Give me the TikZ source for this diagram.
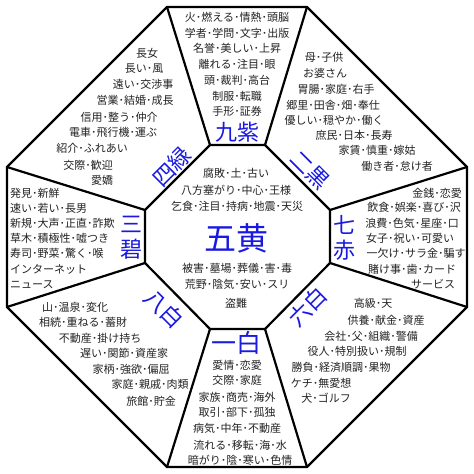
\documentclass[tikz,border=0pt]{standalone}
\usepackage{fontspec}
\setmainfont{Noto Sans CJK JP}
\newfontfamily\jp{Noto Sans CJK JP}
\definecolor{labelblue}{RGB}{25,25,225}
\definecolor{ink}{RGB}{35,35,35}
\begin{document}
\begin{tikzpicture}[x=1pt,y=-1pt,
  edge/.style={line width=2.2pt,line join=miter,draw=black},
  txt/.style={font=\jp\fontsize{11}{13}\selectfont,text=ink,inner sep=0pt},
  big/.style={font=\jp\fontsize{22}{25}\selectfont,text=labelblue,inner sep=0pt,align=center},
]
\useasboundingbox (0,0) rectangle (474,474);
\fill[white] (0,0) rectangle (474,474);
% outer octagon
\coordinate (o1) at (167,7);
\coordinate (o2) at (307,7);
\coordinate (o3) at (467,167);
\coordinate (o4) at (467,307);
\coordinate (o5) at (307,467);
\coordinate (o6) at (167,467);
\coordinate (o7) at (7,307);
\coordinate (o8) at (7,167);
% inner octagon
\coordinate (i1) at (210,145);
\coordinate (i2) at (265,145);
\coordinate (i3) at (330,210);
\coordinate (i4) at (330,263);
\coordinate (i5) at (265,329);
\coordinate (i6) at (210,329);
\coordinate (i7) at (145,263);
\coordinate (i8) at (145,210);
\draw[edge] (o1)--(o2)--(o3)--(o4)--(o5)--(o6)--(o7)--(o8)--cycle;
\draw[edge] (i1)--(i2)--(i3)--(i4)--(i5)--(i6)--(i7)--(i8)--cycle;
\foreach \k in {1,...,8} \draw[edge] (o\k)--(i\k);

% 九紫 (top)
\node[txt] (n1) at (237,17) {火･燃える･情熱･頭脳};
\node[txt] (n2) at (237,33) {学者･学問･文字･出版};
\node[txt] (n3) at (237,48) {名誉･美しい･上昇};
\node[txt] (n4) at (237,64) {離れる･注目･眼};
\node[txt] (n5) at (237,80) {頭･裁判･高台};
\node[txt] (n6) at (237,96) {制服･転職};
\node[txt] (n7) at (237,111) {手形･証券};
\node[big] (L9) at (237,132) {九紫};

% 二黒 (upper right)
\node[txt] (b1) at (324,57) {母･子供};
\node[txt] (b2) at (325,73) {お婆さん};
\node[txt] (b3) at (336,89) {胃腸･家庭･右手};
\node[txt] (b4) at (333,105) {郷里･田舎･畑･奉仕};
\node[txt] (b5) at (334,120) {優しい･穏やか･働く};
\node[txt] (b6) at (354,135) {庶民･日本･長寿};
\node[txt] (b7) at (377,150) {家賃･慎重･嫁姑};
\node[txt] (b8) at (397,166) {働き者･怠け者};
\node[big,rotate=-45] (L2) at (310,170) {二黒};

% 四緑 (upper left)
\node[txt] (g1) at (147,53) {長女};
\node[txt] (g2) at (144,69) {長い･風};
\node[txt] (g3) at (143,84) {遠い･交渉事};
\node[txt] (g4) at (135,100) {営業･結婚･成長};
\node[txt] (g5) at (119,117) {信用･整う･仲介};
\node[txt] (g6) at (113,132) {電車･飛行機･運ぶ};
\node[txt] (g7) at (92,148) {紹介･ふれあい};
\node[txt] (g8) at (88,165) {交際･歓迎};
\node[txt] (g9) at (102,180) {愛嬌};
\node[big,rotate=45] (L4) at (172,167) {四緑};

% 三碧 (left)
\node[txt,anchor=west] (s1) at (10,193) {発見･新鮮};
\node[txt,anchor=west] (s2) at (10,208) {速い･若い･長男};
\node[txt,anchor=west] (s3) at (10,223) {新規･大声･正直･詐欺};
\node[txt,anchor=west] (s4) at (10,238) {草木･積極性･嘘つき};
\node[txt,anchor=west] (s5) at (10,253) {寿司･野菜･驚く･喉};
\node[txt,anchor=west] (s6) at (10,269) {インターネット};
\node[txt,anchor=west] (s7) at (10,285) {ニュース};
\node[big] (L3) at (131,238) {三\\碧};

% 七赤 (right)
\node[txt] (r1) at (437,193) {金銭･恋愛};
\node[txt] (r2) at (414,207) {飲食･娯楽･喜び･沢};
\node[txt] (r3) at (412,223) {浪費･色気･星座･口};
\node[txt] (r4) at (410,238) {女子･祝い･可愛い};
\node[txt] (r5) at (416,253) {一欠け･サラ金･騙す};
\node[txt] (r6) at (412,269) {賭け事･歯･カード};
\node[txt] (r7) at (433,284) {サービス};
\node[big] (L7) at (344,238) {七\\赤};

% 八白 (lower left)
\node[txt] (e1) at (75,307) {山･温泉･変化};
\node[txt] (e2) at (83,322) {相続･重ねる･蓄財};
\node[txt] (e3) at (100,338) {不動産･掛け持ち};
\node[txt] (e4) at (124,353) {遅い･関節･資産家};
\node[txt] (e5) at (131,369) {家柄･強欲･偏屈};
\node[txt] (e6) at (150,384) {家庭･親戚･肉類};
\node[txt] (e7) at (151,401) {旅館･貯金};
\node[big,rotate=-45] (L8) at (164,309) {八白};

% 六白 (lower right)
\node[txt] (x1) at (373,303) {高級･天};
\node[txt] (x2) at (386,320) {供養･献金･資産};
\node[txt] (x3) at (371,336) {会社･父･組織･警備};
\node[txt] (x4) at (357,351) {役人･特別扱い･規制};
\node[txt] (x5) at (341,367) {勝負･経済順調･果物};
\node[txt] (x6) at (321,383) {ケチ･無愛想};
\node[txt] (x7) at (326,398) {犬･ゴルフ};
\node[big,rotate=45] (L6) at (308,307) {六白};

% 一白 (bottom)
\node[big,font=\jp\fontsize{25}{28}\selectfont] (L1) at (236,343) {一白};
\node[txt] (w1) at (237,365) {愛情･恋愛};
\node[txt] (w2) at (237,380) {交際･家庭};
\node[txt] (w3) at (237,397) {家族･商売･海外};
\node[txt] (w4) at (237,412) {取引･部下･孤独};
\node[txt] (w5) at (237,428) {病気･中年･不動産};
\node[txt] (w6) at (240,445) {流れる･移転･海･水};
\node[txt] (w7) at (240,460) {暗がり･陰･寒い･色情};

% 五黄 (center)
\node[txt] (c1) at (236,173) {腐敗･土･古い};
\node[txt] (c2) at (236,190) {八方塞がり･中心･王様};
\node[txt] (c3) at (237,206) {乞食･注目･持病･地震･天災};
\node[big,font=\jp\fontsize{32}{34}\selectfont] (L5) at (236,238) {五黄};
\node[txt] (c4) at (237,268) {被害･墓場･葬儀･害･毒};
\node[txt] (c5) at (237,284) {荒野･陰気･安い･スリ};
\node[txt] (c6) at (236,303) {盗難};
\end{tikzpicture}
\end{document}
